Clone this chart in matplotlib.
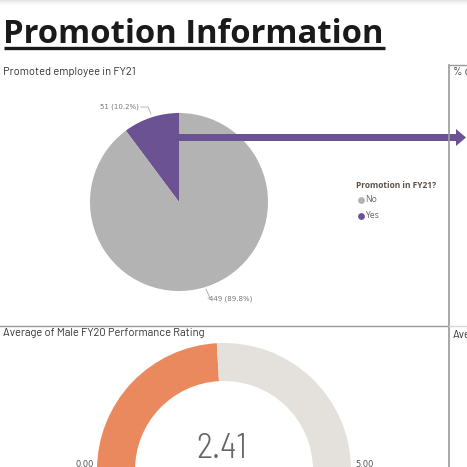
import matplotlib
matplotlib.use("Agg")
import matplotlib.pyplot as plt
from matplotlib.patches import Rectangle

# ---- data ----
promo_labels = ["Yes", "No"]
promo_values = [51, 449]
promo_colors = ["#6B5293", "#B3B3B3"]
gauge_value = 2.41
gauge_min = 0.0
gauge_max = 5.0

W = 467
fig = plt.figure(figsize=(4.67, 4.67), dpi=100)
fig.patch.set_facecolor("white")

def fx(x):
    return x / W
def fy(y):
    return 1 - y / W

DIN = ["Barlow", "DejaVu Sans"]
DINC = ["Barlow Semi Condensed", "DejaVu Sans"]
SEG = ["Open Sans", "DejaVu Sans"]

# ---- pie ----
cx, cy, r = 179, 202, 89
axp = fig.add_axes([fx(cx - r), fy(cy + r), 2 * r / W, 2 * r / W])
axp.pie(promo_values, colors=promo_colors, startangle=90, counterclock=True,
        radius=1, wedgeprops=dict(linewidth=0))
axp.set_xlim(-1, 1); axp.set_ylim(-1, 1)
axp.axis("off")

# ---- gauge ----
gx, gy, gr = 224, 470, 127
axg = fig.add_axes([fx(gx - gr), fy(gy + gr), 2 * gr / W, 2 * gr / W])
total = gauge_max - gauge_min
axg.pie([gauge_value - gauge_min, gauge_max - gauge_value, total],
        colors=["#EA895E", "#E4E0DB", "none"], startangle=180, counterclock=False,
        radius=1, wedgeprops=dict(width=38 / gr, linewidth=0))
axg.set_xlim(-1, 1); axg.set_ylim(-1, 1)
axg.axis("off")

# ---- overlay ----
ax = fig.add_axes([0, 0, 1, 1])
ax.set_xlim(0, W); ax.set_ylim(W, 0)
ax.axis("off")
ax.patch.set_alpha(0)

# top shadow
for i, a in enumerate([0.10, 0.07, 0.05, 0.03, 0.015]):
    ax.add_patch(Rectangle((0, i), W, 1, color="black", alpha=a, lw=0))

ax.text(3, 43, "Promotion Information", fontsize=23.6, fontweight="bold",
        family=SEG, color="#1a1a1a", va="baseline", ha="left")
ax.plot([4, 385], [47.5, 47.5], color="#1a1a1a", lw=2.4, solid_capstyle="butt")

ax.text(3, 75, "Promoted employee in FY21", fontsize=8.0, family=DIN,
        color="#333333", va="baseline")
ax.text(3, 336, "Average of Male FY20 Performance Rating", fontsize=8.0,
        family=DIN, color="#333333", va="baseline")
ax.text(453, 75, "% o", fontsize=8.0, family=DIN, color="#333333", va="baseline")
ax.text(453, 338, "Ave", fontsize=8.0, family=DIN, color="#333333", va="baseline")

# panel borders
ax.plot([449, 449], [65, W], color="#9a9a9a", lw=1.2)
ax.plot([449, W], [65, 65], color="#9a9a9a", lw=1.0)
ax.plot([0, 449], [326, 326], color="#9a9a9a", lw=1.0)
ax.plot([449, W], [326, 326], color="#d8d8d8", lw=1.0)

# pie labels
ax.text(139, 109, f"{promo_values[0]} ({promo_values[0]/sum(promo_values)*100:.1f}%)",
        fontsize=5, family="DejaVu Sans", color="#777777", ha="right", va="baseline")
ax.plot([141, 148, 151], [107, 107, 114], color="#aaaaaa", lw=0.6)
ax.text(209, 300, f"{promo_values[1]} ({promo_values[1]/sum(promo_values)*100:.1f}%)",
        fontsize=5, family="DejaVu Sans", color="#777777", ha="left", va="baseline")
ax.plot([208, 210, 206], [298, 298, 289], color="#aaaaaa", lw=0.6)

# legend
ax.text(356, 188, "Promotion in FY21?", fontsize=6.0, fontweight="bold", family=SEG,
        color="#5a5048", va="baseline")
ax.scatter([360.5], [200], s=24, color=promo_colors[1], lw=0)
ax.text(365, 202.5, promo_labels[1], fontsize=6.2, family=SEG, color="#666666", va="baseline")
ax.scatter([360.5], [216], s=24, color=promo_colors[0], lw=0)
ax.text(365, 218.5, promo_labels[0], fontsize=6.2, family=SEG, color="#666666", va="baseline")

# arrow
ax.arrow(179, 137.5, 277, 0, width=7, head_width=17, head_length=10,
         color="#6B5293", length_includes_head=False, lw=0)

# gauge text
ax.text(222, 458, f"{gauge_value:.2f}", fontsize=25, fontweight=300,
        family=DINC, color="#666666", ha="center", va="baseline")
ax.text(94, 467, f"{gauge_min:.2f}", fontsize=6, family="DejaVu Sans", color="#555555",
        ha="right", va="baseline")
ax.text(355, 467, f"{gauge_max:.2f}", fontsize=6, family="DejaVu Sans", color="#555555",
        ha="left", va="baseline")

fig.savefig("out.png", dpi=100, facecolor="white")
